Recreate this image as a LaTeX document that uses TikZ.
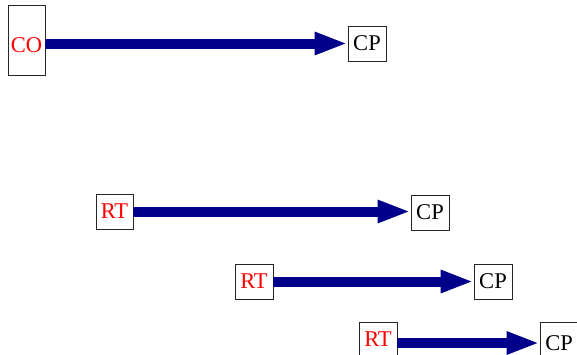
\documentclass[tikz,border=0pt]{standalone}
\usepackage{fontspec}
\setmainfont{Liberation Serif}
\usetikzlibrary{arrows.meta}
\definecolor{flowblue}{RGB}{0,0,139}
\begin{document}
\begin{tikzpicture}[x=1pt,y=-1pt,
  lbl/.style={draw=black!85,line width=0.8pt,inner sep=0pt,
    minimum width=38pt,minimum height=35pt,
    font=\fontsize{22.5}{26}\selectfont},
  src/.style={lbl,text=red},
  flow/.style={draw=flowblue,line width=10pt,
    -{Triangle[length=33pt,width=21pt]}}]
\useasboundingbox (0,0) rectangle (577,354);

% tall source box with its label sitting low
\node[src,minimum width=37pt,minimum height=70pt,text height=24pt,text depth=0pt] (co) at (26.5,40) {CO};
\node[lbl] (cp1) at (367,43.5) {CP};

\node[src,minimum width=37pt] (rt1) at (114.5,211.5) {RT};
\node[lbl] (cp2) at (430,212.5) {CP};

\node[src] (rt2) at (254,281.5) {RT};
\node[lbl] (cp3) at (493,281.5) {CP};

\node[src] (rt3) at (378,339.5) {RT};
\node[lbl,minimum height=42pt] (cp4) at (559,343) {CP};

\draw[flow] (co.east |- cp1) -- (cp1.west);
\draw[flow] (rt1.east) -- (rt1.east -| cp2.west);
\draw[flow] (rt2.east) -- (cp3.west);
\draw[flow] (rt3.east |- cp4) -- (cp4.west);
\end{tikzpicture}
\end{document}
